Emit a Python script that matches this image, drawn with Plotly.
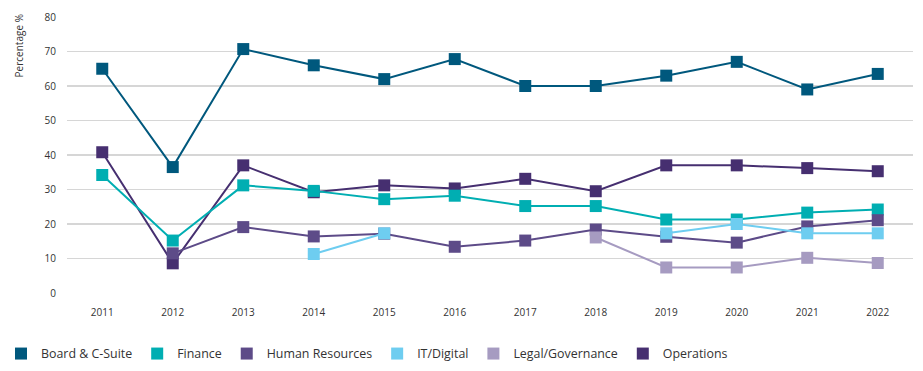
import plotly.graph_objects as go

years = ["2011", "2012", "2013", "2014", "2015", "2016", "2017", "2018", "2019", "2020", "2021", "2022"]

board = [65, 36.5, 70.7, 66, 62, 67.8, 60, 60, 63, 67, 59, 63.5]
finance = [34.2, 15.2, 31.2, 29.6, 27.2, 28.2, 25.2, 25.2, 21.3, 21.3, 23.3, 24.2]
human_resources = [None, 11.5, 19.1, 16.4, 17.2, 13.4, 15.2, 18.4, 16.3, 14.6, 19.3, 21.1]
it_digital = [None, None, None, 11.3, 17.3, None, None, None, 17.3, 20.0, 17.3, 17.3]
legal_governance = [None, None, None, None, None, None, None, 16.1, 7.4, 7.4, 10.2, 8.7]
operations = [40.8, 8.6, 37.0, 29.2, 31.2, 30.3, 33.1, 29.5, 37.0, 37.0, 36.2, 35.3]

y_ticks = [0, 10, 20, 30, 40, 50, 60, 70, 80]

series = [
    ("Board & C-Suite", board, "#00587d"),
    ("Finance", finance, "#00aeb2"),
    ("Human Resources", human_resources, "#5d4b88"),
    ("IT/Digital", it_digital, "#6ecdf0"),
    ("Legal/Governance", legal_governance, "#a69bc1"),
    ("Operations", operations, "#462f70"),
]

draw_order = [5, 0, 1, 2, 3, 4]

fig = go.Figure()

for i in draw_order:
    name, vals, col = series[i]
    fig.add_trace(go.Scatter(
        x=years, y=vals, name=name, mode="lines+markers",
        line=dict(color=col, width=2),
        marker=dict(symbol="square", size=12, color=col),
        connectgaps=False, showlegend=False, hoverinfo="skip",
    ))

for name, vals, col in series:
    fig.add_trace(go.Scatter(
        x=[None], y=[None], name=name, mode="markers",
        marker=dict(symbol="square", size=12, color=col),
        showlegend=True,
    ))

fig.add_annotation(
    text="Percentage %", textangle=-90, xref="paper", yref="paper",
    x=-0.0567, y=1.015, xanchor="center", yanchor="top", showarrow=False,
    font=dict(family="Open Sans", size=10, color="#333333"),
)

fig.update_layout(
    width=923, height=371,
    margin=dict(l=67, r=10, t=17, b=78, autoexpand=False),
    paper_bgcolor="white", plot_bgcolor="white",
    font=dict(family="Open Sans", size=10, color="#333333"),
    showlegend=True,
    legend=dict(
        orientation="h", x=-0.078, xanchor="left", y=-0.221, yanchor="middle",
        font=dict(family="Open Sans", size=12.4, color="#333333"),
        itemsizing="trace", traceorder="normal",
        bgcolor="rgba(0,0,0,0)",
    ),
    xaxis=dict(
        type="category", categoryorder="array", categoryarray=years,
        range=[-0.5, 11.5], showgrid=False, zeroline=False, showline=False,
        ticks="", ticklabelstandoff=12, automargin=False,
        tickfont=dict(family="Open Sans", size=10, color="#333333"),
    ),
    yaxis=dict(
        range=[0, 80], tickvals=y_ticks, showgrid=True, gridcolor="#d6d6d6", gridwidth=1.5,
        zeroline=False, showline=False, ticks="", ticklabelstandoff=10, automargin=False,
        tickfont=dict(family="Open Sans", size=10, color="#333333"),
    ),
)

fig.write_html(
    "out.html",
    config={"displayModeBar": False, "staticPlot": True},
    post_script="document.body.style.margin='0';document.body.style.padding='0';document.body.style.overflow='hidden';",
)
